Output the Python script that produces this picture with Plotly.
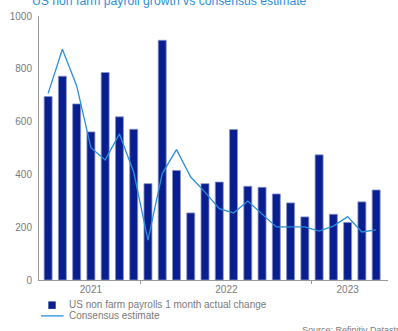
import plotly.graph_objects as go

months = ["Jun 2021", "Jul 2021", "Aug 2021", "Sep 2021", "Oct 2021", "Nov 2021", "Dec 2021",
          "Jan 2022", "Feb 2022", "Mar 2022", "Apr 2022", "May 2022", "Jun 2022", "Jul 2022",
          "Aug 2022", "Sep 2022", "Oct 2022", "Nov 2022", "Dec 2022",
          "Jan 2023", "Feb 2023", "Mar 2023", "Apr 2023", "May 2023"]
actual = [695, 772, 667, 561, 786, 618, 571, 365, 908, 415, 254, 365,
          371, 570, 355, 351, 326, 292, 239, 474, 249, 218, 296, 341]
consensus = [707, 874, 736, 501, 455, 553, 409, 151, 403, 494, 390, 333,
             270, 254, 299, 250, 201, 201, 201, 185, 204, 240, 182, 190]
year_labels = ["2021", "2022", "2023"]
year_centers = [3, 12.5, 21]
year_bounds = [6.5, 18.5]

title_text = "US non farm payroll growth vs consensus estimate"
legend_bar = "US non farm payrolls 1 month actual change"
legend_line = "Consensus estimate"
source_text = "Source: Refinitiv Datastream"

x = list(range(len(months)))
BAR = "#0a1f8f"
LINE = "#2b8fdc"
GRAY = "#7a7a7a"
FONT = "Liberation Sans, Arial, sans-serif"

fig = go.Figure()
fig.add_trace(go.Bar(x=x, y=actual, name=legend_bar, marker=dict(color=BAR, line=dict(color="#8893c8", width=0.8)),
                     width=0.56, hovertext=months))
fig.add_trace(go.Scatter(x=x, y=consensus, name=legend_line, mode="lines",
                         line=dict(color=LINE, width=1.3), hovertext=months))

W, H = 398, 331
L, R, T, B = 33, 10, 15, 51
pw, ph = W - L - R, H - T - B

def px(q):
    return (q - L) / pw

def py(p):
    return (H - B - p) / ph

fig.update_layout(
    width=W, height=H,
    margin=dict(l=L, r=R, t=T, b=B, pad=0),
    paper_bgcolor="white", plot_bgcolor="white",
    showlegend=False,
    font=dict(family=FONT, color=GRAY, size=10),
    title=dict(text=title_text, x=32 / W, xanchor="left", xref="container",
               y=1 - 0.5 / H, yanchor="middle", yref="container",
               font=dict(size=12.2, color=LINE, family=FONT)),
    xaxis=dict(range=[-0.64, 23.83], showgrid=False, zeroline=False,
               showline=True, linecolor="#999999", linewidth=1,
               tickmode="array", tickvals=year_centers, ticktext=year_labels,
               ticks="", tickfont=dict(size=10, color=GRAY),
               minor=dict(tickmode="array", tickvals=year_bounds, ticks="outside",
                          ticklen=3, tickcolor="#999999", showgrid=False)),
    yaxis=dict(range=[0, 1000], dtick=200, showgrid=False, zeroline=False,
               showline=True, linecolor="#999999", linewidth=1,
               ticks="", ticklabelstandoff=4, tickfont=dict(size=10, color=GRAY)),
    bargap=0.45,
)

# legend drawn manually to match compact layout
fig.add_shape(type="rect", xref="paper", yref="paper",
              x0=px(42.5), x1=px(50), y0=py(301.5), y1=py(309), fillcolor=BAR, line=dict(width=0))
fig.add_shape(type="line", xref="paper", yref="paper",
              x0=px(35), x1=px(58), y0=py(316), y1=py(316), line=dict(color=LINE, width=1.3))
fig.add_annotation(text=legend_bar, xref="paper", yref="paper", x=px(61), y=py(305),
                   xanchor="left", yanchor="middle", showarrow=False,
                   font=dict(size=10, color=GRAY, family=FONT))
fig.add_annotation(text=legend_line, xref="paper", yref="paper", x=px(61), y=py(316),
                   xanchor="left", yanchor="middle", showarrow=False,
                   font=dict(size=10, color=GRAY, family=FONT))
fig.add_annotation(text=source_text, xref="paper", yref="paper", x=px(298), y=py(330),
                   xanchor="left", yanchor="middle", showarrow=False,
                   font=dict(size=9, color=GRAY, family=FONT))

fig.write_html("out.html")
